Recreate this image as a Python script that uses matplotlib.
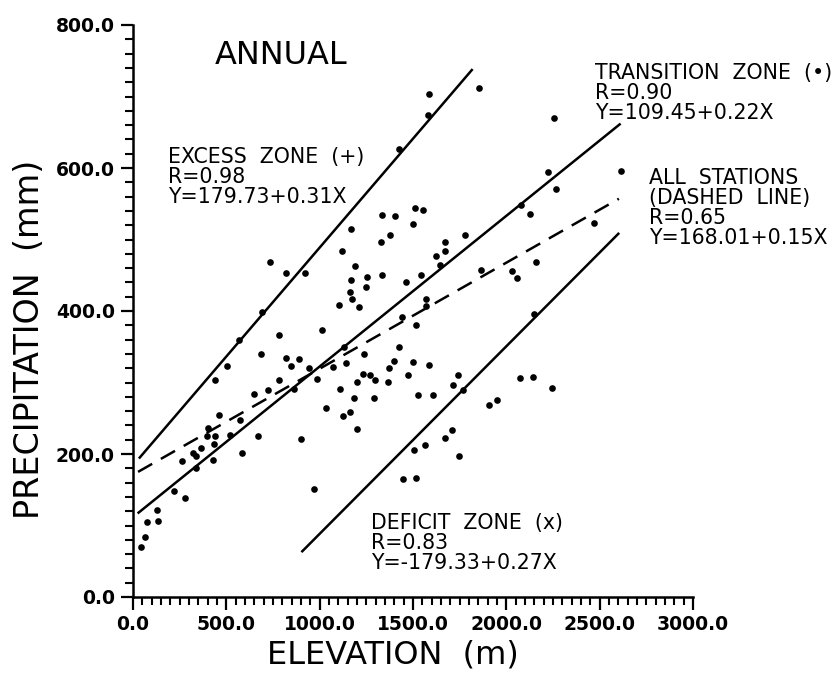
import matplotlib
matplotlib.use("Agg")
import matplotlib.pyplot as plt
from matplotlib.ticker import MultipleLocator, FormatStrFormatter

# station elevation (m) and annual precipitation (mm)
elevation = [
    44, 65, 74, 133, 127, 222, 276, 262, 337, 336, 320, 363, 428, 432, 394,
    437, 404, 462, 522, 574, 583, 672, 647, 722, 687, 437, 506, 568, 689, 733,
    782, 821, 891, 849, 945, 780, 984, 1074, 1143, 1239, 898, 971, 819, 921,
    1012, 1101, 1118, 1169, 1188, 1168, 1164, 1175, 1213, 1254, 1249, 1334,
    1331, 1379, 1334, 1404, 1425, 1463, 1439, 1510, 1501, 1108, 1183, 1198,
    1291, 1034, 1163, 1126, 1202, 1230, 1267, 1294, 1364, 1374, 1400, 1426,
    1502, 1471, 1526, 1504, 1447, 1517, 1515, 1553, 1587, 1583, 1854, 1669,
    1669, 1622, 1644, 1781, 1543, 1572, 1567, 1864, 2030, 2057, 2158, 2146,
    2078, 2127, 2225, 2264, 2258, 2616, 2471, 1588, 1739, 1713, 1607, 1767,
    2071, 2141, 2243, 1907, 1950, 1563, 1674, 1711, 1746, 1131, 861,
]
precipitation = [
    70, 84, 105, 106, 121, 148, 139, 190, 180, 197, 201, 208, 191, 214, 225,
    225, 236, 255, 226, 248, 202, 225, 284, 290, 340, 303, 323, 360, 399, 469,
    367, 334, 333, 323, 320, 303, 305, 321, 327, 340, 221, 151, 453, 453,
    373, 408, 484, 515, 463, 444, 427, 417, 406, 448, 434, 450,
    496, 506, 534, 533, 627, 440, 391, 544, 522, 291, 279, 301,
    279, 264, 259, 253, 235, 312, 311, 303, 301, 320, 330, 350,
    328, 310, 283, 205, 165, 167, 380, 541, 703, 674, 712, 496,
    484, 477, 465, 506, 450, 417, 407, 458, 456, 446, 468, 396,
    548, 535, 595, 570, 670, 596, 523, 324, 311, 297, 283, 289,
    306, 307, 293, 269, 276, 212, 223, 234, 197, 350, 291,
]

# end points of the fitted lines
excess_x = [36, 1815]
excess_y = [195, 737]
transition_x = [30, 2607]
transition_y = [118, 661]
all_x = [27, 2603]
all_y = [175, 557]
deficit_x = [907, 2600]
deficit_y = [64, 508]

W, H = 838, 677


def fig_xy(px, py):
    return px / W, 1 - py / H


fig = plt.figure(figsize=(W / 100, H / 100), dpi=100)
ax = fig.add_axes([133 / W, 80 / H, 560 / W, 572 / H])

ax.plot(elevation, precipitation, "o", color="black", ms=4.8, mec="none")
ax.plot(excess_x, excess_y, color="black", lw=1.8)
ax.plot(transition_x, transition_y, color="black", lw=1.8)
ax.plot(deficit_x, deficit_y, color="black", lw=1.8)
ax.plot(all_x, all_y, color="black", lw=1.8, linestyle=(0, (6.5, 4)))

ax.set_xlim(0, 3000)
ax.set_ylim(0, 800)
ax.spines["top"].set_visible(False)
ax.spines["right"].set_visible(False)
ax.spines["left"].set_linewidth(1.8)
ax.spines["bottom"].set_linewidth(1.8)

ax.xaxis.set_major_locator(MultipleLocator(500))
ax.xaxis.set_minor_locator(MultipleLocator(50))
ax.yaxis.set_major_locator(MultipleLocator(200))
ax.yaxis.set_minor_locator(MultipleLocator(20))
ax.xaxis.set_major_formatter(FormatStrFormatter("%.1f"))
ax.yaxis.set_major_formatter(FormatStrFormatter("%.1f"))
ax.tick_params(which="major", direction="out", length=9, width=1.6, pad=4)
ax.tick_params(which="minor", direction="out", length=6, width=1.5)
for lab in ax.get_xticklabels() + ax.get_yticklabels():
    lab.set_fontsize(13.5)
    lab.set_fontweight("bold")

ax.set_xlabel("ELEVATION  (m)", fontsize=23)
ax.xaxis.set_label_coords(0.464, -0.075)
ax.set_ylabel("PRECIPITATION  (mm)", fontsize=24)
ax.yaxis.set_label_coords(-0.155, 0.45)

fig.text(*fig_xy(281, 55), "ANNUAL", fontsize=23, ha="center", va="center")

notes = [
    (168, 147, "EXCESS  ZONE  (+)\nR=0.98\nY=179.73+0.31X"),
    (595, 63, "TRANSITION  ZONE  (\u2022)\nR=0.90\nY=109.45+0.22X"),
    (649, 168, "ALL  STATIONS\n(DASHED  LINE)\nR=0.65\nY=168.01+0.15X"),
    (371, 513, "DEFICIT  ZONE  (x)\nR=0.83\nY=-179.33+0.27X"),
]
for px, py, txt in notes:
    fig.text(*fig_xy(px, py), txt, fontsize=14.8, ha="left", va="top",
             linespacing=1.0)

fig.savefig("out.png", dpi=100)
